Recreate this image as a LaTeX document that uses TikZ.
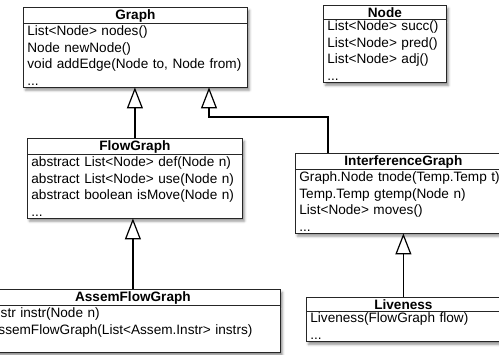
\documentclass[tikz,border=0pt]{standalone}
\usepackage{fontspec}
\setmainfont{Liberation Sans}
\usetikzlibrary{shapes.multipart, arrows.meta, shadows.blur}
\tikzset{
x=1pt, y=1pt, % one unit is one pixel of the sketch, so positions can be read off it
umlclass/.style={rectangle split, rectangle split parts=2, draw=black!85, fill=white, line width=0.8pt,
  anchor=north west, inner xsep=4pt, inner ysep=1.5pt, align=left,
  font=\fontsize{13.6}{16.5}\selectfont,
  blur shadow={shadow xshift=2pt, shadow yshift=-3pt, shadow blur radius=2.5pt, shadow opacity=45}}, % a class box: name on top, methods below
inherit/.style={line width=1.5pt, -{Triangle[length=21pt, width=16pt, fill=white, line width=1.2pt]}}, % open triangle for "extends"
}
\newcommand{\classname}[1]{\hfill\textbf{#1}\hfill\null} % centres the name in the top part

\begin{document}
\begin{tikzpicture}
        %% The sketch is cut at its edges, so we fix the frame first and clip everything to it.
        \useasboundingbox (0,0) rectangle (499,-355);
        \clip (0,0) rectangle (499,-355);
        %% The class boxes. Each one is placed by its top left corner.
        \node[umlclass, text width=216pt] (graph) at (23,-7) {\classname{Graph}
            \nodepart{two} List<Node> nodes()\\ Node newNode()\\ void addEdge(Node to, Node from)\\ ...};
        \node[umlclass, text width=115pt] (node) at (323,-5) {\classname{Node}
            \nodepart{two} List<Node> succ()\\ List<Node> pred()\\ List<Node> adj()\\ ...};
        \node[umlclass, text width=207pt] (flow) at (27,-138) {\classname{FlowGraph}
            \nodepart{two} abstract List<Node> def(Node n)\\ abstract List<Node> use(Node n)\\ abstract boolean isMove(Node n)\\ ...};
        \node[umlclass, text width=208pt] (interf) at (295,-153) {\classname{InterferenceGraph}
            \nodepart{two} Graph.Node tnode(Temp.Temp t)\\ Temp.Temp gtemp(Node n)\\ List<Node> moves()\\ ...};
        \node[umlclass, text width=186pt] (live) at (306,-297) {\classname{Liveness}
            \nodepart{two} Liveness(FlowGraph flow)\\ ...};
        \node[umlclass, text width=287pt] (assem) at (-15,-289) {\classname{AssemFlowGraph}
            \nodepart{two} Instr instr(Node n)\\ AssemFlowGraph(List<Assem.Instr> instrs)\\ ...};
        %% Inheritance arrows, from the subclass up to its parent.
        \coordinate (bend) at (209,-117);
        \draw[inherit] (flow.north) -- (flow.north |- graph.south);
        \draw[inherit] ([xshift=33pt]interf.north west) |- (bend) -- (bend |- graph.south);
        \draw[inherit] (live.north) -- (live.north |- interf.south);
        \draw[inherit] (assem.north) -- (assem.north |- flow.south);
    \end{tikzpicture}
\end{document}
